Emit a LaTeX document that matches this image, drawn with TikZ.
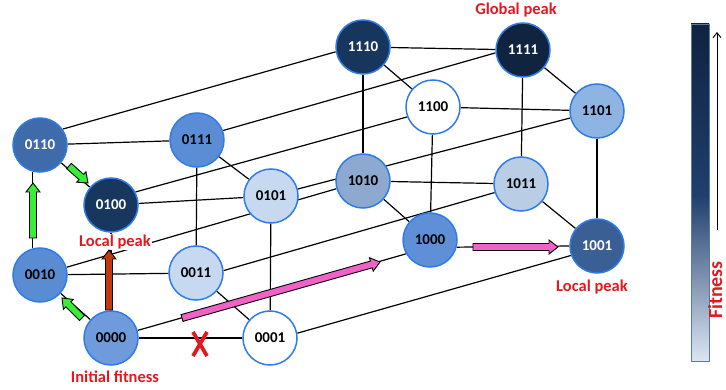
\documentclass[tikz,border=0pt]{standalone}
\usepackage{fontspec}
\setmainfont{Carlito}
\usetikzlibrary{calc,backgrounds,arrows.meta}

\definecolor{rim}{HTML}{2F7BEA}
\definecolor{peakred}{HTML}{E3191F}
\definecolor{c0110}{HTML}{3F6BAA}
\definecolor{c0111}{HTML}{5B8DD6}
\definecolor{c0100}{HTML}{17375E}
\definecolor{c0101}{HTML}{C6D9F1}
\definecolor{c0010}{HTML}{5A8CD4}
\definecolor{c0011}{HTML}{C6D9F1}
\definecolor{c0000}{HTML}{6F9ADB}
\definecolor{c1110}{HTML}{17365D}
\definecolor{c1111}{HTML}{10233F}
\definecolor{c1101}{HTML}{8EB4E3}
\definecolor{c1010}{HTML}{8DA9CF}
\definecolor{c1011}{HTML}{B9CDE5}
\definecolor{c1000}{HTML}{5F8FD6}
\definecolor{c1001}{HTML}{3A5F94}
\definecolor{fatgreen}{HTML}{38EE38}
\definecolor{fatpink}{HTML}{F062C8}
\definecolor{fatbrown}{HTML}{C0390F}
\definecolor{barTop}{HTML}{0F2340}
\definecolor{barMid}{HTML}{1F3F6E}
\definecolor{barLow}{HTML}{DCE6F2}
\definecolor{barEdge}{HTML}{5A7BA0}

\tikzset{
  gnode/.style={circle, draw=rim, line width=1.5pt, minimum size=54pt, inner sep=0pt,
    font=\bfseries\fontsize{15}{15}\selectfont},
  hi/.style={gnode, fill=#1, text=white},
  lo/.style={gnode, fill=#1, text=black},
  link/.style={line width=1.2pt, black},
  tag/.style={text=peakred, inner sep=1pt, font=\bfseries\fontsize{16.5}{16.5}\selectfont},
  fat/.style={line width=0.9pt, draw=black, line join=miter},
}

% block arrow: tail, tip, fill, half shaft width, half head width, head length
\newcommand\fatarrow[6]{%
  \coordinate (neck) at ($(#2)!#6!(#1)$);
  \filldraw[fat, fill=#3] ($(#1)!#4!90:(#2)$) -- ($(neck)!#4!90:(#2)$)
    -- ($(neck)!#5!90:(#2)$) -- (#2) -- ($(neck)!#5!-90:(#2)$)
    -- ($(neck)!#4!-90:(#2)$) -- ($(#1)!#4!-90:(#2)$) -- cycle;
}

\begin{document}
\begin{tikzpicture}[x=1pt,y=-1pt]
\useasboundingbox (0,0) rectangle (726,390);

% genotypes of the 0xxx half
\node[hi=c0110] (n0110) at (40,145) {0110};
\node[lo=c0111] (n0111) at (197,140) {0111};
\node[hi=c0100] (n0100) at (111,205) {0100};
\node[lo=c0101] (n0101) at (271,196) {0101};
\node[lo=c0010] (n0010) at (40,275) {0010};
\node[lo=c0011] (n0011) at (196,273) {0011};
\node[lo=c0000] (n0000) at (111,338) {0000};
\node[lo=white] (n0001) at (270,338) {0001};
% genotypes of the 1xxx half
\node[hi=c1110] (n1110) at (363,47) {1110};
\node[hi=c1111] (n1111) at (523,50) {1111};
\node[lo=white] (n1100) at (433,107) {1100};
\node[lo=c1101] (n1101) at (597,111) {1101};
\node[lo=c1010] (n1010) at (363,181) {1010};
\node[lo=c1011] (n1011) at (521,184) {1011};
\node[lo=c1000] (n1000) at (430,240) {1000};
\node[hi=c1001] (n1001) at (597,246) {1001};

% hypercube edges
\begin{scope}[on background layer]
  \fill[white] (0,0) rectangle (726,390);
  \foreach \a/\b in {0110/0111,0110/0100,0111/0101,0111/0011,0100/0101,0100/0000,
      0101/0001,0010/0011,0010/0000,0011/0001,0000/0001,
      1110/1111,1110/1100,1110/1010,1111/1101,1111/1011,1100/1101,1100/1000,
      1101/1001,1010/1011,1010/1000,1011/1001,
      0101/1101,0010/1010}
    \draw[link] (n\a) -- (n\b);
  \draw[link] (n0010.105) -- (n0110.255);
  \draw[link] (n1000.-15) -- (n1001.west);
  \draw[link] (n0110.35) -- (n1110.190);
  \draw[link] (n0111.20) -- (n1111.186);
  \draw[link] (n0100.28) -- (n1100.201);
  \draw[link] (n0011.5) -- (n1011.198);
  \draw[link] (n0000) -- (n1000.210);
  \draw[link] (n0001.10) -- (n1001.200);
\end{scope}

% labels
\node[tag, fill=white] (lp1) at (115,242) {Local peak};
\node[tag] (lp2) at (592,287) {Local peak};
\node[tag] (gp) at (516,10) {Global peak};
\node[tag] (init) at (115,377) {Initial fitness};

% mutation steps
\coordinate (g1s) at (33,238);  \coordinate (g1e) at (33,183);
\coordinate (g2s) at (69,166);  \coordinate (g2e) at (88,183);
\coordinate (g3s) at (82,318);  \coordinate (g3e) at (62,298);
\coordinate (b1s) at (109,310); \coordinate (b1e) at (109,250);
\coordinate (p1s) at (182,318); \coordinate (p1e) at (380,262);
\coordinate (p2s) at (473,247); \coordinate (p2e) at (558,247);
\fatarrow{g1s}{g1e}{fatgreen}{3.5pt}{7pt}{9pt}
\fatarrow{g2s}{g2e}{fatgreen}{3.5pt}{7pt}{9pt}
\fatarrow{g3s}{g3e}{fatgreen}{3.5pt}{7pt}{9pt}
\fatarrow{b1s}{b1e}{fatbrown}{3.5pt}{7pt}{9pt}
\fatarrow{p1s}{p1e}{fatpink}{3.5pt}{7pt}{9pt}
\fatarrow{p2s}{p2e}{fatpink}{3.5pt}{7pt}{9pt}

% blocked step
\coordinate (xc) at (200,344);
\draw[peakred, line width=3.8pt] ($(xc)+(-7,-12)$) -- ($(xc)+(7,12)$)
  ($(xc)+(7,-12)$) -- ($(xc)+(-7,12)$);

% fitness scale
\shade[top color=barTop, bottom color=barMid] (691,24) rectangle (709,195);
\shade[top color=barMid, bottom color=barLow] (691,195) rectangle (709,361);
\draw[barEdge, line width=0.8pt] (691,24) rectangle (709,361);
\coordinate (fitlow) at (717,230);
\coordinate (fithigh) at (717,32);
\draw[-{Straight Barb[length=5pt,width=8pt]}, line width=0.9pt] (fitlow) -- (fithigh);
\node[tag, rotate=90, anchor=base, inner sep=0pt, font=\bfseries\fontsize{20}{20}\selectfont]
  (fit) at (722,290) {Fitness};
\end{tikzpicture}
\end{document}
